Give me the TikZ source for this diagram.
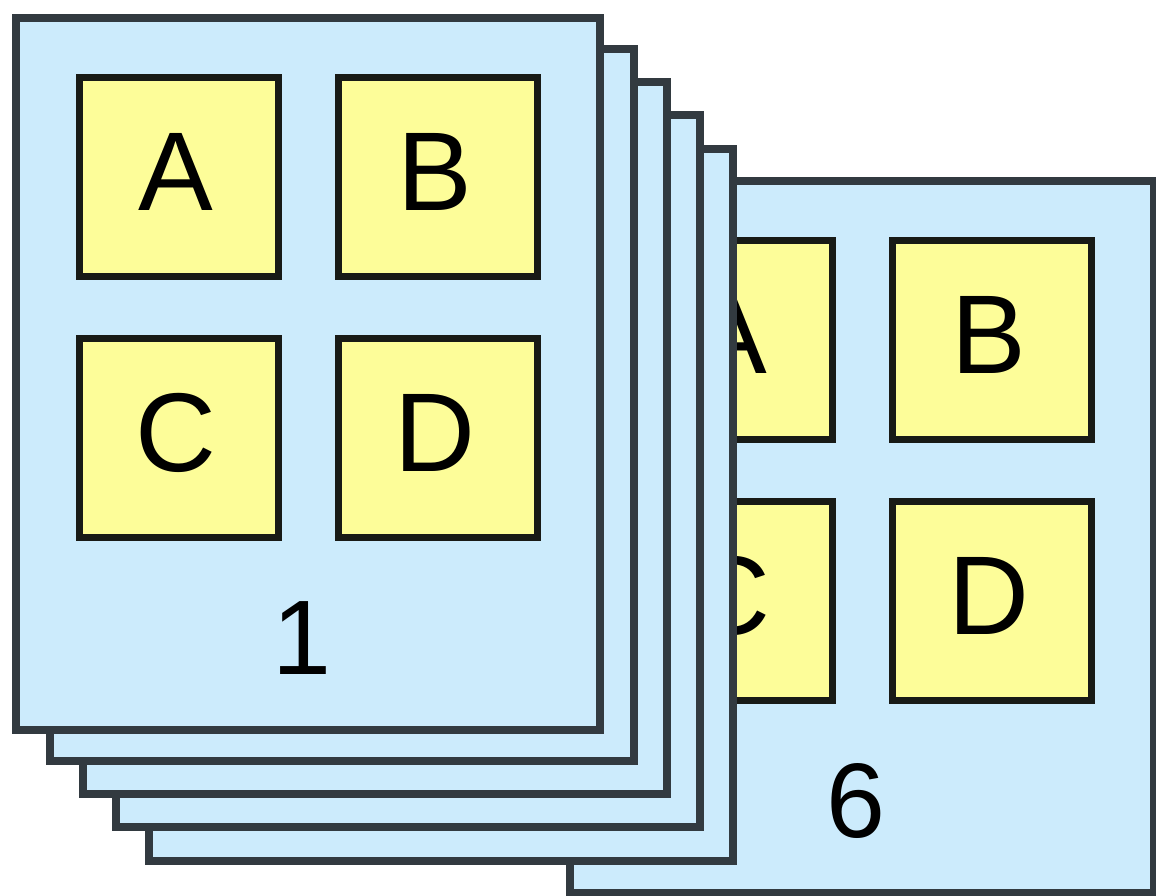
\documentclass[tikz,border=0pt]{standalone}
\usepackage{fontspec}
\setmainfont{Liberation Sans}
\definecolor{pagefill}{RGB}{204,235,252}
\definecolor{pageborder}{RGB}{50,58,64}
\definecolor{cellfill}{RGB}{253,253,153}
\definecolor{cellborder}{RGB}{24,26,22}
\tikzset{
  pg/.style={draw=pageborder, fill=pagefill, line width=8pt, minimum width=584pt, minimum height=712pt, inner sep=0pt, anchor=north west},
  cell/.style={draw=cellborder, fill=cellfill, line width=6.5pt, minimum width=199pt, minimum height=199pt, inner sep=0pt, anchor=north west},
  letter/.style={inner sep=0pt, font=\fontsize{112}{120}\selectfont},
  num/.style={inner sep=0pt, font=\fontsize{106}{120}\selectfont},
  page/.pic={
    \node[pg] (-p) at (0,0) {};
    \node[cell] (-a) at (64,60) {};
    \node[cell] (-b) at (323,60) {};
    \node[cell] (-c) at (64,321) {};
    \node[cell] (-d) at (323,321) {};
    \node[letter] (-la) at ([xshift=-3pt,yshift=5pt]-a.center) {A};
    \node[letter] (-lb) at ([xshift=-3pt,yshift=5pt]-b.center) {B};
    \node[letter] (-lc) at ([xshift=-3pt,yshift=5pt]-c.center) {C};
    \node[letter] (-ld) at ([xshift=-3pt,yshift=5pt]-d.center) {D};
    \node[num] (-n) at (290,624) {#1};
  }
}
\begin{document}
\begin{tikzpicture}[x=1pt,y=-1pt]
\useasboundingbox (0,0) rectangle (1156,895);
\pic (six) at (566,177) {page=6};
\node[pg] (p5) at (145,145) {};
\node[pg] (p4) at (112,111) {};
\node[pg] (p3) at (79,78) {};
\node[pg] (p2) at (46,45) {};
\pic (one) at (12,14) {page=1};
\end{tikzpicture}
\end{document}
